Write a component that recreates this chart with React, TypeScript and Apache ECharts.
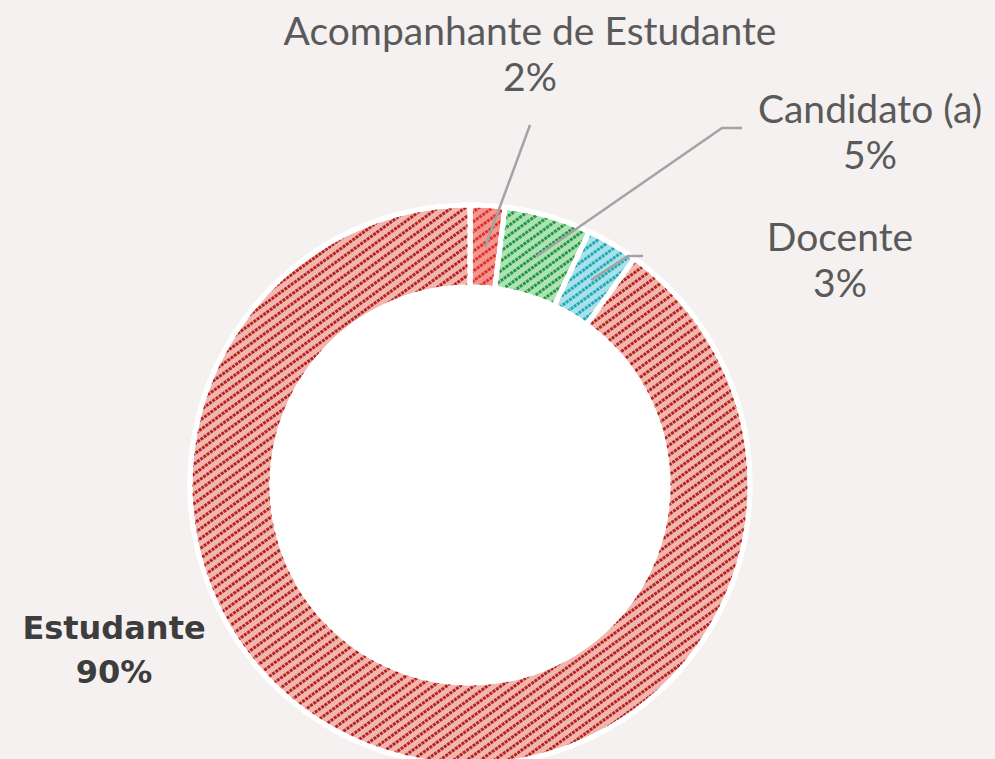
import React, { useEffect, useRef } from "react";
import * as echarts from "echarts";

const categories = ["Acompanhante de Estudante", "Candidato (a)", "Docente", "Estudante"];
const values = [2, 5, 3, 90];
const baseColors = ["#f4968e", "#ade2b5", "#a9e1e8", "#f3b5af"];
const dotColors = ["#de3129", "#259643", "#22a8bb", "#b2251d"];

const CX = 470;
const CY = 485;
const R_IN = 198;
const R_OUT = 280;
const R_MID = 238;

// label anchor positions (layout)
const labelPos = [
  { x: 530, y: 53 },
  { x: 870, y: 131 },
  { x: 840, y: 259 },
  { x: 114, y: 650 },
];
const lineBends: (number[][] | null)[] = [
  [[530, 125]],
  [[722, 128], [742, 128]],
  [[628, 256], [643, 256]],
  null,
];

export default function App() {
  const ref = useRef<HTMLDivElement>(null);
  useEffect(() => {
    document.body.style.margin = "0";
    const chart = echarts.init(ref.current!, null, { renderer: "svg" });
    const total = values.reduce((a, b) => a + b, 0);
    const mids: number[] = [];
    let acc = 0;
    values.forEach((v) => {
      mids.push(((acc + v / 2) / total) * Math.PI * 2);
      acc += v;
    });
    chart.setOption({
      animation: false,
      backgroundColor: "#f5f1f0",
      series: [
        {
          type: "pie",
          silent: true,
          z: 1,
          center: [CX, CY],
          radius: [0, R_IN],
          label: { show: false },
          labelLine: { show: false },
          itemStyle: { color: "#ffffff" },
          data: [{ value: 1, name: "" }],
        },
        {
          type: "pie",
          z: 2,
          center: [CX, CY],
          radius: [R_IN, R_OUT],
          startAngle: 90,
          clockwise: true,
          itemStyle: { borderColor: "#ffffff", borderWidth: 5 },
          label: { show: false },
          labelLine: { show: false },
          data: categories.map((name, i) => ({
            name,
            value: values[i],
            itemStyle: {
              color: baseColors[i],
              decal: {
                symbol: "rect",
                symbolSize: 1,
                color: dotColors[i],
                dashArrayX: [3, 1],
                dashArrayY: [2.5, 5],
                rotation: -Math.PI / 5,
              },
            },
          })),
        },
        {
          type: "pie",
          z: 5,
          silent: true,
          center: [CX, CY],
          radius: [R_IN, R_OUT],
          startAngle: 90,
          clockwise: true,
          avoidLabelOverlap: false,
          itemStyle: { color: "rgba(0,0,0,0)", borderWidth: 0 },
          label: {
            show: true,
            position: "outside",
            fontFamily: "Lato",
            fontSize: 39,
            lineHeight: 46,
            color: "#5a5a5a",
            formatter: (p: any) => `${p.name}\n${Math.round(p.percent)}%`,
          },
          labelLine: {
            show: true,
            lineStyle: { color: "#a3a3a3", width: 2.5 },
          },
          labelLayout: (p: any) => {
            const i = p.dataIndex;
            const pos = labelPos[i];
            const out: any = { x: pos.x, y: pos.y, align: "center", verticalAlign: "middle" };
            const b = lineBends[i];
            if (b) {
              const a = mids[i];
              const p0 = [CX + R_MID * Math.sin(a), CY - R_MID * Math.cos(a)];
              out.labelLinePoints = [p0, ...b, ...(b.length === 1 ? [b[0]] : [])];
            }
            return out;
          },
          data: categories.map((name, i) => ({
            name,
            value: values[i],
            ...(i === 3
              ? {
                  label: {
                    fontFamily: "DejaVu Sans",
                    fontWeight: "bold",
                    fontSize: 32,
                    lineHeight: 44,
                    color: "#3d3d3d",
                  },
                  labelLine: { show: false },
                }
              : {}),
          })),
        },
      ],
    });
    return () => chart.dispose();
  }, []);
  return <div ref={ref} style={{ width: 995, height: 759 }} />;
}
